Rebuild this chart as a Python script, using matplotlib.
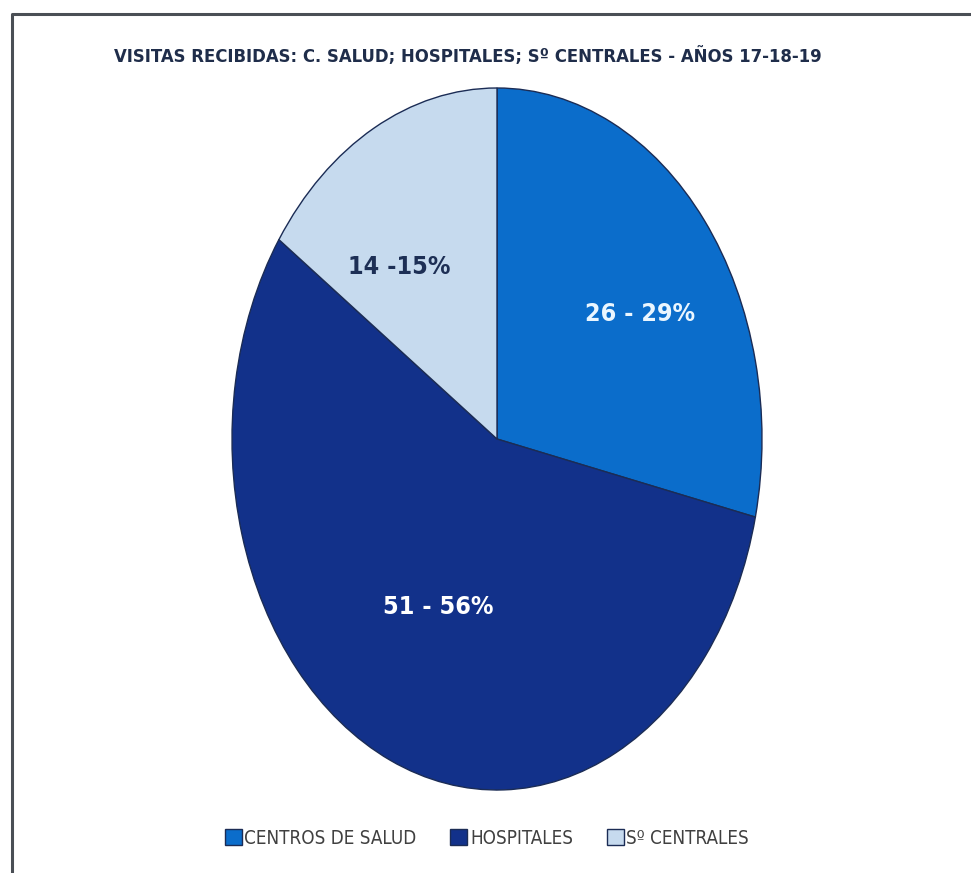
import matplotlib
matplotlib.use("Agg")
import matplotlib.pyplot as plt
from matplotlib.lines import Line2D

# datos
categorias = ["CENTROS DE SALUD", "HOSPITALES", "Sº CENTRALES"]
visitas = [26, 51, 14]
porcentajes = [29, 56, 15]
etiquetas = ["26 - 29%", "51 - 56%", "14 -15%"]

colores = ["#0b6dcb", "#12318a", "#c6daee"]
color_texto = ["#eaf6ff", "#ffffff", "#1d2f55"]

plt.rcParams['font.family'] = ['DejaVu Sans']
plt.rcParams['font.stretch'] = 'condensed'

fig = plt.figure(figsize=(9.71, 8.73), dpi=100)
fig.patch.set_facecolor("white")

ax = fig.add_axes([232/971, 83/873, 530/971, 702/873])
cunas, _ = ax.pie(visitas, colors=colores, startangle=90, counterclock=False,
                  wedgeprops=dict(edgecolor="#1b2c55", linewidth=1.0))
ax.set_aspect("auto")
ax.set_xlim(-1, 1)
ax.set_ylim(-1, 1)
ax.axis("off")

# posiciones de las etiquetas
pos_etiq = [(0.54, 0.356), (-0.22, -0.479), (-0.37, 0.49)]
for (x, y), txt, c in zip(pos_etiq, etiquetas, color_texto):
    ax.text(x, y, txt, ha="center", va="center", fontsize=18,
            fontweight="bold", color=c)

fig.text(0.4815, 0.935, "VISITAS RECIBIDAS: C. SALUD; HOSPITALES; Sº CENTRALES - AÑOS 17-18-19",
         ha="center", va="center", fontsize=13.2, fontweight="bold", color="#1f2d4a")

fig.legend(cunas, categorias, loc="center", bbox_to_anchor=(0.5015, 0.04), ncol=3,
           frameon=False, fontsize=13.5, labelcolor="#404040", handlelength=0.9,
           handleheight=0.9, handletextpad=0.15, columnspacing=1.8)

# marco (solo izquierda y arriba visibles)
fig.add_artist(Line2D([12/971, 12/971, 1.0], [0.0, 1-13.5/873, 1-13.5/873],
                      transform=fig.transFigure, color="#4a4f55", linewidth=2.2))

fig.savefig("out.png", dpi=100)
